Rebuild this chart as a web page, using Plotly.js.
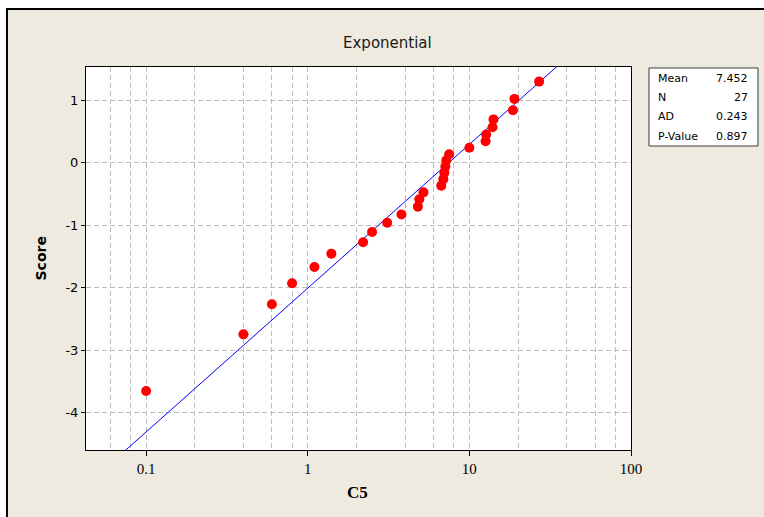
<!DOCTYPE html>
<html>
<head>
<meta charset="utf-8">
<script src="https://cdn.plot.ly/plotly-3.0.1.min.js"></script>
<style>html,body{margin:0;padding:0;background:#fff;}#chart{width:764px;height:517px;}</style>
</head>
<body>
<div id="chart"></div>
<script>
// Data
const dataX = [0.1, 0.4, 0.6, 0.8, 1.1, 1.4, 2.2, 2.5, 3.1, 3.8, 4.8, 4.9, 5.2, 6.7, 6.9, 7.0, 7.1, 7.2, 7.5, 10.0, 12.6, 12.7, 13.9, 14.1, 18.6, 19.0, 27.0];
const scores = [-3.654, -2.748, -2.266, -1.931, -1.670, -1.456, -1.272, -1.109, -0.962, -0.828, -0.703, -0.585, -0.474, -0.367, -0.263, -0.161, -0.062, 0.038, 0.137, 0.239, 0.343, 0.451, 0.567, 0.694, 0.840, 1.022, 1.299];
const meanValue = 7.452;
const statLabels = ['Mean', 'N', 'AD', 'P-Value'];
const statValues = ['7.452', '27', '0.243', '0.897'];
const xTickVals = [0.1, 1, 10, 100];
const xTickText = ['0.1', '1', '10', '100'];
const xMinorGrid = [0.06, 0.08, 0.2, 0.4, 0.6, 0.8, 2, 4, 6, 8, 20, 40, 60, 80];
const yTickVals = [-4, -3, -2, -1, 0, 1];
const yTickText = ['-4', '-3', '-2', '-1', '0', '1'];
const chartTitle = 'Exponential';
const xTitle = 'C5';
const yTitle = 'Score';

// Fitted exponential line: score = ln(x / mean)
const fitScores = [-4.8, 1.8];
const fitX = fitScores.map(s => meanValue * Math.exp(s));

const gridColor = '#bdbdbd';
const gridDash = '5px,3px';

const traces = [
  {x: fitX, y: fitScores, type: 'scatter', mode: 'lines',
   line: {color: '#0000ff', width: 1}, hoverinfo: 'skip'},
  {x: dataX, y: scores, type: 'scatter', mode: 'markers',
   marker: {color: '#ff0000', size: 10}}
];

const rowY = [0.9687, 0.9191, 0.8695, 0.8198];
const annotations = [
  {text: chartTitle, xref: 'paper', yref: 'paper', x: 0.554, y: 1.0627, xanchor: 'center', yanchor: 'middle',
   showarrow: false, font: {family: 'DejaVu Sans', size: 15, color: '#1a1a1a'}},
  {text: '<b>' + xTitle + '</b>', xref: 'paper', yref: 'paper', x: 0.499, y: -0.11, xanchor: 'center', yanchor: 'middle',
   showarrow: false, font: {family: 'Liberation Serif', size: 17, color: '#000'}},
  {text: '<b>' + yTitle + '</b>', xref: 'paper', yref: 'paper', x: -0.0844, y: 0.5, xanchor: 'center', yanchor: 'middle',
   textangle: -90, showarrow: false, font: {family: 'DejaVu Sans', size: 14, color: '#000'}}
];
statLabels.forEach((lab, i) => {
  annotations.push({text: lab, xref: 'paper', yref: 'paper', x: 1.0459, y: rowY[i], xanchor: 'left', yanchor: 'middle',
    showarrow: false, font: {family: 'DejaVu Sans', size: 11, color: '#000'}});
  annotations.push({text: statValues[i], xref: 'paper', yref: 'paper', x: 1.2183, y: rowY[i], xanchor: 'right', yanchor: 'middle',
    showarrow: false, font: {family: 'DejaVu Sans', size: 11, color: '#000'}});
});

const layout = {
  width: 764, height: 517,
  margin: {l: 86, r: 133, t: 67, b: 67, pad: 0},
  paper_bgcolor: '#ffffff',
  plot_bgcolor: '#ffffff',
  showlegend: false,
  xaxis: {
    type: 'log', range: [-1.372, 2.0],
    tickmode: 'array', tickvals: xTickVals, ticktext: xTickText,
    ticks: 'outside', ticklen: 5, tickcolor: '#000', tickwidth: 1,
    showgrid: true, gridcolor: gridColor, gridwidth: 1, griddash: gridDash,
    minor: {tickmode: 'array', tickvals: xMinorGrid, showgrid: true, gridcolor: gridColor, gridwidth: 1, griddash: gridDash, ticks: ''},
    showline: true, linecolor: '#000', linewidth: 1, mirror: true,
    zeroline: false,
    tickfont: {family: 'Liberation Serif', size: 15, color: '#000'}
  },
  yaxis: {
    range: [-4.6, 1.533],
    tickmode: 'array', tickvals: yTickVals, ticktext: yTickText,
    ticks: 'outside', ticklen: 4, tickcolor: '#000', tickwidth: 1,
    showgrid: true, gridcolor: gridColor, gridwidth: 1, griddash: gridDash,
    showline: true, linecolor: '#000', linewidth: 1, mirror: true,
    zeroline: false,
    tickfont: {family: 'DejaVu Sans', size: 13, color: '#000'}
  },
  shapes: [
    {type: 'rect', xref: 'paper', yref: 'paper', x0: -0.145, x1: 1.35, y0: -0.35, y1: 1.1514,
     fillcolor: '#eeeae0', line: {color: '#000', width: 2}, layer: 'below'},
    {type: 'rect', xref: 'paper', yref: 'paper', x0: 0, x1: 1, y0: 0, y1: 1,
     fillcolor: '#ffffff', line: {width: 0}, layer: 'below'},
    {type: 'rect', xref: 'paper', yref: 'paper', x0: 1.033, x1: 1.233, y0: 0.7937, y1: 0.9974,
     fillcolor: '#ffffff', line: {color: '#3a3a3a', width: 1}, layer: 'below'}
  ],
  annotations: annotations
};

Plotly.newPlot('chart', traces, layout, {displayModeBar: false, staticPlot: true});
</script>
</body>
</html>
